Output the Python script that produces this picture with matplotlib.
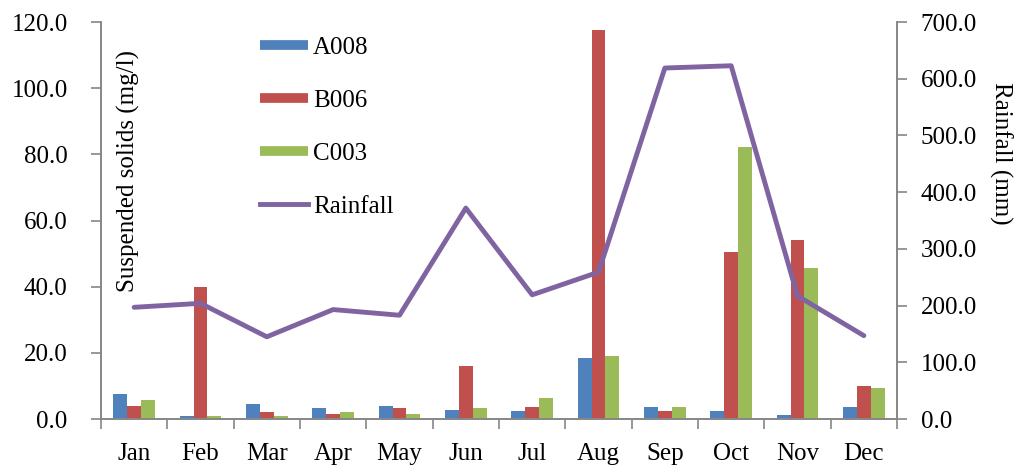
import matplotlib.pyplot as plt
import numpy as np
from matplotlib.lines import Line2D

plt.rcParams['font.family'] = ['Liberation Serif', 'DejaVu Serif']

months = ['Jan', 'Feb', 'Mar', 'Apr', 'May', 'Jun', 'Jul', 'Aug', 'Sep', 'Oct', 'Nov', 'Dec']
a008 = [7.5, 0.8, 4.4, 3.2, 3.8, 2.6, 2.4, 18.3, 3.6, 2.4, 1.2, 3.6]
b006 = [3.8, 40.0, 2.0, 1.4, 3.2, 15.9, 3.6, 117.5, 2.4, 50.4, 54.1, 9.9]
c003 = [5.7, 0.8, 0.8, 2.0, 1.4, 3.2, 6.2, 18.9, 3.6, 82.2, 45.6, 9.3]
rainfall = [197, 204, 145, 193, 183, 372, 219, 259, 619, 623, 217, 147]

BLUE = '#4F81BD'
RED = '#C0504D'
GREEN = '#9BBB59'
PURPLE = '#8064A2'
GREY = '#868686'

fig = plt.figure(figsize=(10.24, 4.70), dpi=100)
ax = fig.add_axes([0.0986, 0.1085, 0.7774, 0.8445])
ax2 = ax.twinx()

x = np.arange(len(months))
w = 0.21
ax.bar(x - w, a008, w, color=BLUE)
ax.bar(x, b006, w, color=RED)
ax.bar(x + w, c003, w, color=GREEN)
ax2.plot(x, rainfall, color=PURPLE, lw=3.5, solid_capstyle='round')

ax.set_xlim(-0.5, 11.5)
ax.set_ylim(0, 120)
ax2.set_ylim(0, 700)
ax.set_yticks(np.arange(0, 121, 20))
ax.set_yticklabels(['%.1f' % v for v in np.arange(0, 121, 20)])
ax2.set_yticks(np.arange(0, 701, 100))
ax2.set_yticklabels(['%.1f' % v for v in np.arange(0, 701, 100)])

ax.set_xticks(x)
ax.set_xticklabels(months)
ax.set_xticks(np.arange(-0.5, 12, 1), minor=True)
ax.tick_params(axis='x', which='major', length=0, pad=17, labelsize=18)
ax.tick_params(axis='x', which='minor', length=7, color=GREY, width=1.2)
ax.tick_params(axis='y', length=7, color=GREY, width=1.2, labelsize=18, pad=17)
ax2.tick_params(axis='y', length=7, color=GREY, width=1.2, labelsize=18, pad=10)

for a in (ax, ax2):
    a.spines['top'].set_visible(False)
    for s in ('left', 'right', 'bottom'):
        a.spines[s].set_color(GREY)
        a.spines[s].set_linewidth(1.2)

fig.text(0.125, 0.636, 'Suspended solids (mg/l)', rotation=90, fontsize=18,
         ha='center', va='center')
fig.text(0.977, 0.674, 'Rainfall (mm)', rotation=270, fontsize=18,
         ha='center', va='center')

handles = [Line2D([0], [0], color=BLUE, lw=7, solid_capstyle='butt'),
           Line2D([0], [0], color=RED, lw=7, solid_capstyle='butt'),
           Line2D([0], [0], color=GREEN, lw=7, solid_capstyle='butt'),
           Line2D([0], [0], color=PURPLE, lw=3.5)]
ax.legend(handles, ['A008', 'B006', 'C003', 'Rainfall'], loc='upper left',
          bbox_to_anchor=(0.172, 1.02), frameon=False, fontsize=18,
          handlelength=1.9, handletextpad=0.2, labelspacing=1.22)

fig.savefig('out.png', dpi=100)
